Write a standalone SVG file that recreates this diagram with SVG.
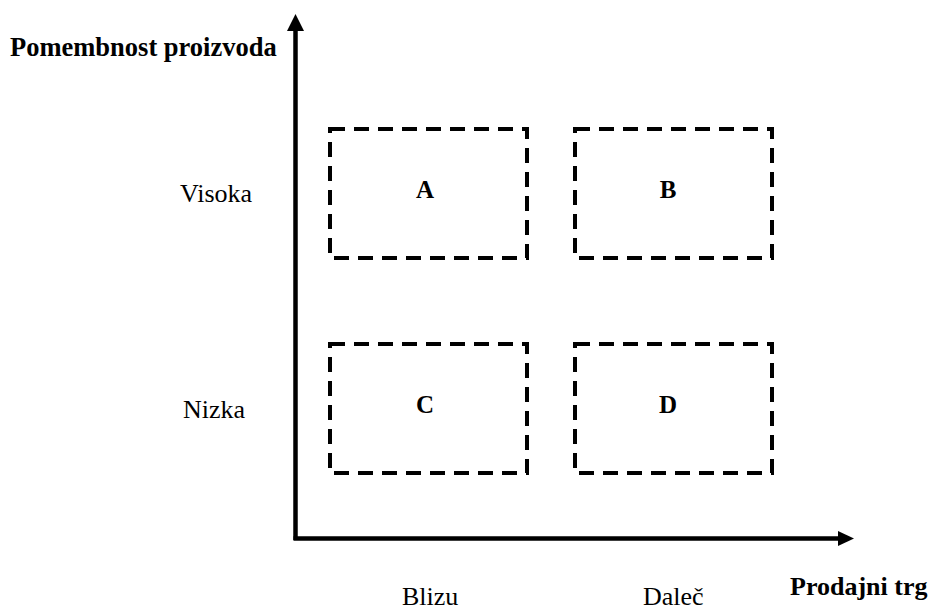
<svg xmlns="http://www.w3.org/2000/svg" width="932" height="610" viewBox="0 0 932 610">
<style>
.box{fill:none;stroke:#000;stroke-width:4;stroke-dasharray:15 9}
.ax{stroke:#000;stroke-width:4.5;fill:none}
.t{font-family:"Liberation Serif","Times New Roman",serif;font-size:26px;fill:#000}
.b{font-weight:bold}
.l{font-size:25px}
</style>
<rect width="932" height="610" fill="#fff"/>
<g id="connectors">
<line class="ax" x1="295.5" y1="28" x2="295.5" y2="540"/>
<line class="ax" x1="293.5" y1="538.5" x2="840" y2="538.5"/>
<polygon points="295.5,14 287,31 304,31" fill="#000"/>
<polygon points="854,538.5 838,531 838,546" fill="#000"/>
</g>
<g id="yaxis-label"><text class="t b" x="10" y="56" style="font-size:26.5px">Pomembnost proizvoda</text></g>
<g id="xaxis-label"><text class="t b" x="790" y="595">Prodajni trg</text></g>
<g id="visoka"><text class="t" x="180" y="202">Visoka</text></g>
<g id="nizka"><text class="t" x="183" y="418">Nizka</text></g>
<g id="blizu"><text class="t" x="402" y="605">Blizu</text></g>
<g id="dalec"><text class="t" x="643" y="605">Daleč</text></g>
<g id="A"><rect class="box" x="330" y="129" width="197" height="129"/><text class="t b l" x="425" y="198" text-anchor="middle">A</text></g>
<g id="B"><rect class="box" x="575" y="129" width="197" height="129"/><text class="t b l" x="668" y="198" text-anchor="middle">B</text></g>
<g id="C"><rect class="box" x="330" y="344" width="197" height="129"/><text class="t b l" x="425" y="413" text-anchor="middle">C</text></g>
<g id="D"><rect class="box" x="575" y="344" width="197" height="129"/><text class="t b l" x="668" y="413" text-anchor="middle">D</text></g>
</svg>
